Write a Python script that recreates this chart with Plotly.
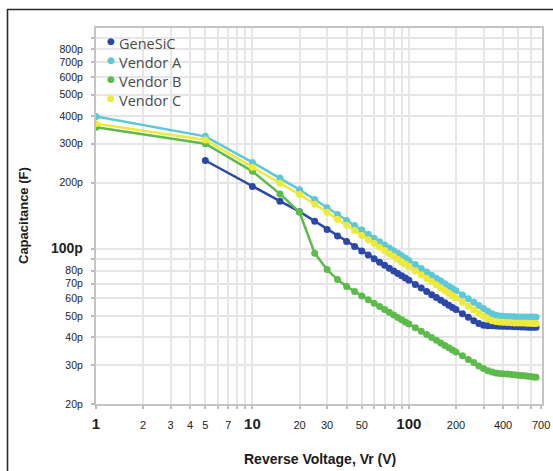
import plotly.graph_objects as go

# Reverse voltage (V) sample points
voltage = [5, 10, 15, 20, 25, 30, 35, 40, 45, 50, 55, 60, 65, 70, 75, 80, 85, 90, 95, 100,
           110, 120, 130, 140, 150, 160, 170, 180, 190, 200,
           220, 240, 260, 280, 300, 320, 340, 360, 380, 400,
           425, 450, 475, 500, 525, 550, 575, 600, 625, 650]
voltage_vendor = [1] + voltage

# Capacitance values in pF
genesic_pF = [252, 192, 165, 148, 134, 123, 114.9, 108.4, 102.9, 98.2, 94.2, 90.7, 87.5, 84.7, 82.2,
              79.9, 77.8, 75.9, 74.1, 72.4, 69.4, 66.8, 64.5, 62.4, 60.6, 58.9, 57.3, 55.9, 54.6, 53.4,
              51.2, 49.3, 47.6, 46.2, 45.4, 45.2, 45.1, 45.0, 44.9, 44.9,
              44.8, 44.8, 44.7, 44.7, 44.6, 44.6, 44.5, 44.5, 44.4, 44.4]
vendor_a_pF = [398, 324, 247, 210, 186, 168, 154, 143.6, 135.1, 128.1, 122.1, 116.9, 112.3, 108.3, 104.7,
               101.5, 98.6, 95.9, 93.4, 91.2, 89.0, 85.3, 82.0, 79.0, 76.4, 74.0, 71.9, 69.9, 68.1, 66.5,
               65.0, 62.2, 59.8, 57.6, 55.7, 54.0, 52.5, 51.2, 50.4, 50.0, 49.8,
               49.7, 49.6, 49.6, 49.5, 49.5, 49.5, 49.4, 49.4, 49.4, 49.3]
vendor_b_pF = [356, 300, 225, 178, 147, 96, 81, 73, 68, 64.5, 61.5, 59.1, 57.0, 55.1, 53.4,
               51.9, 50.5, 49.2, 48.0, 47.0, 46.0, 44.2, 42.6, 41.2, 39.9, 38.8, 37.7, 36.8, 35.9, 35.1,
               34.4, 33.0, 31.8, 30.8, 29.7, 28.9, 28.3, 27.9, 27.6, 27.5, 27.4,
               27.3, 27.2, 27.1, 27.0, 26.9, 26.8, 26.7, 26.6, 26.5, 26.4]
vendor_c_pF = [369, 312, 235, 199, 177, 160, 147, 136.7, 128.4, 121.5, 115.6, 110.6, 106.1, 102.2, 98.7,
               95.6, 92.7, 90.1, 87.7, 85.5, 83.5, 79.8, 76.6, 73.8, 71.3, 69.0, 66.9, 65.0, 63.3, 61.7,
               60.3, 57.6, 55.3, 53.3, 51.5, 49.8, 48.5, 47.6, 47.2, 47.0, 46.8,
               46.7, 46.6, 46.5, 46.5, 46.4, 46.4, 46.3, 46.3, 46.2, 46.2]

series_names = ["GeneSiC", "Vendor A", "Vendor B", "Vendor C"]
series_colors = ["#2c48a6", "#5ec8d8", "#5cbb4a", "#eeea3c"]

x_tickvals = [1, 2, 3, 4, 5, 6, 7, 8, 9, 10, 20, 30, 40, 50, 60, 70, 80, 90, 100,
              200, 300, 400, 500, 600, 700]
x_ticklabels = ["1", "2", "3", "4", "5", "", "7", "", "", "10", "20", "30", "", "50", "", "", "", "", "100",
                "200", "", "400", "", "", "700"]
x_major = ["1", "10", "100"]

y_tickvals = [20, 30, 40, 50, 60, 70, 80, 90, 100, 200, 300, 400, 500, 600, 700, 800, 900]
y_ticklabels = ["20p", "30p", "40p", "50p", "60p", "70p", "80p", "", "100p",
                "200p", "300p", "400p", "500p", "600p", "700p", "800p", ""]
y_major = ["100p"]


def fmt(lbl, major, big):
    if lbl in major:
        return "<span style='font-size:%dpx'><b>%s</b></span>" % (big, lbl)
    return lbl


fig = go.Figure()
data = [(voltage, genesic_pF), (voltage_vendor, vendor_a_pF),
        (voltage_vendor, vendor_b_pF), (voltage_vendor, vendor_c_pF)]
for (xs, ys), name, col in zip(data, series_names, series_colors):
    fig.add_trace(go.Scatter(x=xs, y=ys, mode="lines+markers", name=name,
                             line=dict(color=col, width=2.5),
                             marker=dict(color=col, size=7),
                             showlegend=False))

W, H = 553, 471
L, R, T, B = 96, 11, 28, 67
pw, ph = W - L - R, H - T - B


def px_x(p):
    return (p - L) / pw


def px_y(p):
    return (H - B - p) / ph


axis_common = dict(type="log", showgrid=True, gridcolor="#e6e6e6", gridwidth=1.5,
                   showline=True, linecolor="#c4c4c4", linewidth=2, mirror=True,
                   ticks="outside", ticklen=3, tickwidth=1.5, tickcolor="#b4bcc8",
                   zeroline=False, tickmode="array", automargin=False,
                   tickfont=dict(family="Liberation Sans, Arial, sans-serif", size=11, color="#222"))

fig.update_xaxes(**axis_common, range=[0, 2.851], tickvals=x_tickvals,
                 ticktext=[fmt(t, x_major, 15) for t in x_ticklabels], ticklabelstandoff=7)
fig.update_yaxes(**axis_common, range=[1.30103, 3.0], tickvals=y_tickvals,
                 ticktext=[fmt(t, y_major, 14) for t in y_ticklabels], ticklabelstandoff=6)
fig.update_yaxes(tickfont=dict(size=10.5))

annotations = [
    dict(text="<b>Reverse Voltage, Vr (V)</b>", xref="paper", yref="paper",
         x=px_x(319.5), y=px_y(458.5), xanchor="center", yanchor="middle", showarrow=False,
         font=dict(size=14, color="#1a1a1a")),
    dict(text="<b>Capacitance (F)</b>", xref="paper", yref="paper",
         x=px_x(23), y=px_y(216), xanchor="center", yanchor="middle", showarrow=False,
         textangle=-90, font=dict(size=13, color="#1a1a1a")),
]

# Legend in the top-left corner: one column of key dots and one column of names
legend_size = 14.5
dots = "<br>".join("<span style='color:%s;font-size:9px'>●</span>" % c for c in series_colors)
names = "<br>".join(series_names)
annotations.append(dict(text=dots, xref="paper", yref="paper", x=px_x(111), y=px_y(34),
                        xanchor="center", yanchor="top", align="center", showarrow=False,
                        font=dict(family="DejaVu Sans", size=legend_size)))
annotations.append(dict(text=names, xref="paper", yref="paper", x=px_x(117), y=px_y(32),
                        xanchor="left", yanchor="top", align="left", showarrow=False,
                        font=dict(family="Open Sans, sans-serif", size=legend_size, color="#4a4a4a")))

fig.update_layout(
    width=W, height=H, autosize=False,
    margin=dict(l=L, r=R, t=T, b=B, pad=0),
    paper_bgcolor="white", plot_bgcolor="white",
    showlegend=False,
    font=dict(family="Liberation Sans, Arial, sans-serif", color="#222"),
    annotations=annotations,
    shapes=[
        dict(type="path", xref="paper", yref="paper",
             path="M %f,%f L %f,%f L %f,%f" % (px_x(7.5), px_y(480), px_x(7.5), px_y(9.5),
                                               px_x(560), px_y(9.5)),
             line=dict(color="#2a2a2a", width=1.6), layer="above"),
    ],
)

fig.write_html("out.html", config={"displayModeBar": False},
               post_script="document.body.style.margin='0px';")
